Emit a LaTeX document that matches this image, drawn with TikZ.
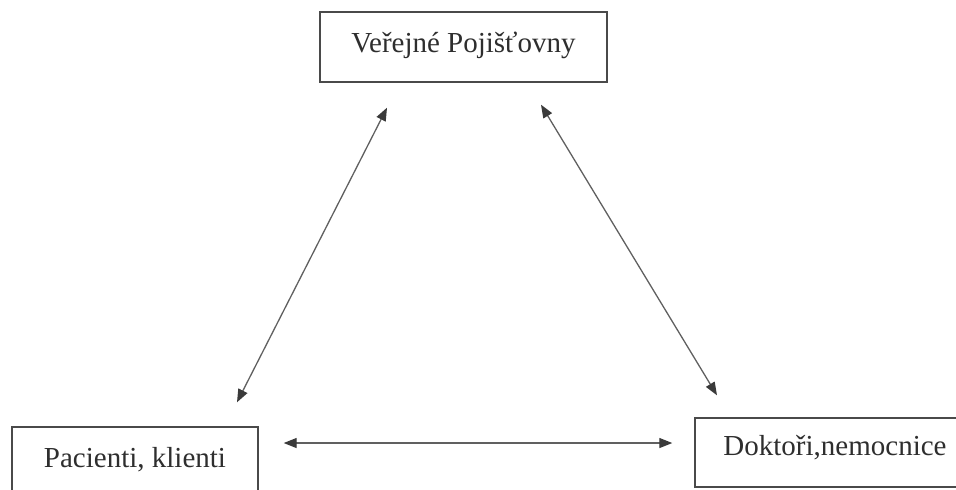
\documentclass[tikz,border=0pt]{standalone}
\usepackage{fontspec}
\setmainfont{Liberation Serif}
\usetikzlibrary{arrows.meta}
\definecolor{boxline}{HTML}{4A4A4A}
\definecolor{txt}{HTML}{2E2E2E}
\definecolor{arrline}{HTML}{606060}
\definecolor{arrhead}{HTML}{3A3A3A}
\tikzset{
  box/.style={draw=boxline, line width=1.4pt, rectangle, inner sep=0pt,
    text=txt, font=\fontsize{29}{34}\selectfont, text height=20pt},
  biarrow/.style={draw=arrline, line width=1.3pt,
    {Triangle[length=13pt,width=10pt,color=arrhead]}-{Triangle[length=13pt,width=10pt,color=arrhead]}}
}
\begin{document}
\begin{tikzpicture}[x=1pt,y=-1pt]
\useasboundingbox (0,0) rectangle (956,490);
\clip (0,0) rectangle (956,490);
\node[box, minimum width=287pt, minimum height=70pt, text depth=10pt] (top) at (463.5,47) {Veřejné Pojišťovny};
\node[box, minimum width=246pt, minimum height=66pt, text depth=6pt] (left) at (135,460) {Pacienti, klienti};
\node[box, minimum width=275pt, minimum height=69pt, text depth=15pt] (right) at (832.5,452.5) {\hspace*{5pt}Doktoři,nemocnice};
\draw[biarrow] ([xshift=-76.5pt,yshift=-25pt]top.south) -- ([xshift=102pt,yshift=24pt]left.north);
\draw[biarrow] ([xshift=77.5pt,yshift=-22pt]top.south) -- ([xshift=-115.5pt,yshift=22pt]right.north);
\draw[biarrow] ([xshift=25pt,yshift=17pt]left.east) -- ([xshift=-22pt,yshift=9.5pt]right.west);
\end{tikzpicture}
\end{document}
